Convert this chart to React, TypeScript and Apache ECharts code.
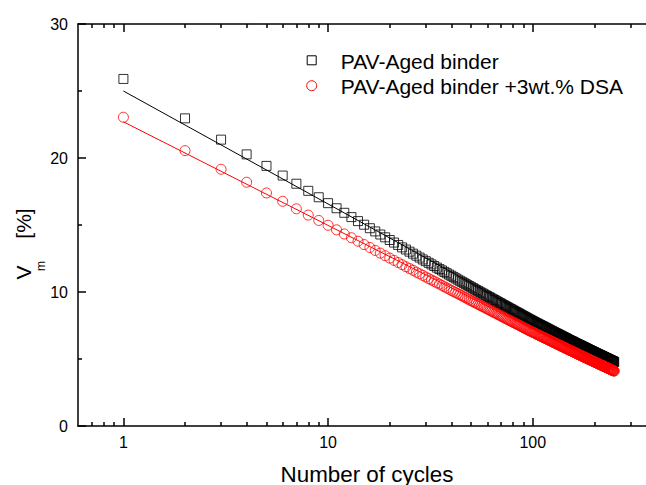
import React, { useEffect, useRef } from "react";
import * as echarts from "echarts";

// Number of cycles (x) – integer cycle index 1..250
const cycles: number[] = Array.from({ length: 250 }, (_, i) => i + 1);

// PAV-Aged binder (squares)
const pavAged: number[] = [
  25.90, 22.96, 21.37, 20.27, 19.41, 18.69, 18.08, 17.55, 17.07, 16.63,
  16.25, 15.91, 15.59, 15.29, 15.02, 14.76, 14.52, 14.29, 14.08, 13.88,
  13.69, 13.51, 13.33, 13.17, 13.01, 12.86, 12.71, 12.57, 12.43, 12.30,
  12.18, 12.06, 11.94, 11.82, 11.71, 11.61, 11.50, 11.40, 11.30, 11.21,
  11.11, 11.02, 10.93, 10.84, 10.76, 10.68, 10.59, 10.51, 10.44, 10.36,
  10.29, 10.21, 10.14, 10.08, 10.01, 9.94, 9.88, 9.81, 9.75, 9.69,
  9.63, 9.57, 9.51, 9.45, 9.40, 9.34, 9.28, 9.23, 9.18, 9.12,
  9.07, 9.02, 8.97, 8.92, 8.87, 8.82, 8.77, 8.73, 8.68, 8.63,
  8.59, 8.54, 8.50, 8.45, 8.41, 8.37, 8.33, 8.28, 8.24, 8.20,
  8.16, 8.12, 8.08, 8.04, 8.00, 7.96, 7.93, 7.89, 7.85, 7.82,
  7.78, 7.75, 7.71, 7.68, 7.65, 7.62, 7.58, 7.55, 7.52, 7.49,
  7.46, 7.43, 7.40, 7.37, 7.34, 7.31, 7.28, 7.25, 7.22, 7.19,
  7.16, 7.13, 7.10, 7.08, 7.05, 7.02, 6.99, 6.97, 6.94, 6.91,
  6.89, 6.86, 6.84, 6.81, 6.79, 6.76, 6.74, 6.71, 6.69, 6.66,
  6.64, 6.61, 6.59, 6.57, 6.54, 6.52, 6.50, 6.47, 6.45, 6.42,
  6.40, 6.38, 6.36, 6.34, 6.32, 6.30, 6.28, 6.25, 6.23, 6.21,
  6.19, 6.17, 6.15, 6.13, 6.11, 6.09, 6.07, 6.05, 6.03, 6.01,
  6.00, 5.98, 5.96, 5.94, 5.92, 5.90, 5.88, 5.86, 5.85, 5.83,
  5.81, 5.79, 5.77, 5.76, 5.74, 5.72, 5.70, 5.68, 5.67, 5.65,
  5.63, 5.62, 5.60, 5.58, 5.57, 5.55, 5.53, 5.51, 5.50, 5.48,
  5.47, 5.45, 5.43, 5.42, 5.40, 5.39, 5.37, 5.36, 5.34, 5.33,
  5.31, 5.30, 5.28, 5.27, 5.25, 5.24, 5.22, 5.21, 5.19, 5.18,
  5.17, 5.15, 5.14, 5.12, 5.11, 5.09, 5.08, 5.07, 5.05, 5.04,
  5.03, 5.01, 5.00, 4.98, 4.97, 4.96, 4.94, 4.93, 4.92, 4.90,
  4.89, 4.88, 4.86, 4.85, 4.84, 4.83, 4.81, 4.80, 4.79, 4.77,
];

// PAV-Aged binder +3wt.% DSA (circles)
const pavAgedDSA: number[] = [
  23.04, 20.55, 19.16, 18.19, 17.39, 16.77, 16.21, 15.74, 15.34, 14.98,
  14.64, 14.33, 14.05, 13.79, 13.54, 13.32, 13.10, 12.90, 12.71, 12.53,
  12.36, 12.20, 12.04, 11.89, 11.75, 11.62, 11.48, 11.36, 11.24, 11.12,
  11.00, 10.90, 10.79, 10.69, 10.59, 10.49, 10.39, 10.30, 10.21, 10.12,
  10.04, 9.96, 9.88, 9.80, 9.72, 9.64, 9.57, 9.50, 9.42, 9.35,
  9.29, 9.22, 9.16, 9.09, 9.03, 8.97, 8.91, 8.85, 8.79, 8.73,
  8.68, 8.62, 8.57, 8.51, 8.46, 8.41, 8.36, 8.31, 8.26, 8.21,
  8.16, 8.11, 8.06, 8.02, 7.97, 7.93, 7.88, 7.84, 7.80, 7.75,
  7.71, 7.67, 7.63, 7.59, 7.55, 7.51, 7.47, 7.43, 7.39, 7.35,
  7.31, 7.28, 7.24, 7.20, 7.17, 7.13, 7.10, 7.06, 7.03, 7.00,
  6.97, 6.94, 6.91, 6.87, 6.84, 6.81, 6.78, 6.75, 6.72, 6.69,
  6.66, 6.63, 6.61, 6.58, 6.55, 6.52, 6.49, 6.47, 6.44, 6.41,
  6.38, 6.36, 6.33, 6.30, 6.28, 6.25, 6.23, 6.20, 6.18, 6.15,
  6.13, 6.10, 6.08, 6.05, 6.03, 6.01, 5.98, 5.96, 5.94, 5.91,
  5.89, 5.87, 5.84, 5.82, 5.80, 5.78, 5.76, 5.73, 5.71, 5.69,
  5.67, 5.65, 5.63, 5.61, 5.59, 5.57, 5.55, 5.53, 5.51, 5.49,
  5.47, 5.45, 5.43, 5.41, 5.39, 5.37, 5.35, 5.33, 5.31, 5.29,
  5.28, 5.26, 5.24, 5.22, 5.20, 5.19, 5.17, 5.15, 5.13, 5.11,
  5.10, 5.08, 5.06, 5.05, 5.03, 5.01, 4.99, 4.98, 4.96, 4.94,
  4.93, 4.91, 4.90, 4.88, 4.86, 4.85, 4.83, 4.81, 4.80, 4.78,
  4.77, 4.75, 4.74, 4.72, 4.71, 4.69, 4.68, 4.66, 4.65, 4.63,
  4.62, 4.60, 4.59, 4.58, 4.56, 4.55, 4.53, 4.52, 4.50, 4.49,
  4.48, 4.46, 4.45, 4.44, 4.42, 4.41, 4.39, 4.38, 4.37, 4.35,
  4.34, 4.33, 4.31, 4.30, 4.29, 4.28, 4.26, 4.25, 4.24, 4.22,
  4.21, 4.20, 4.19, 4.17, 4.16, 4.15, 4.14, 4.12, 4.11, 4.10,
];

// Linear (in log x) fit lines: [cycle, value] end points
const fitPavAged: number[][] = [[1, 25.0], [250, 4.78]];
const fitPavAgedDSA: number[][] = [[1, 22.7], [250, 4.16]];

const xMajorTicks = [1, 10, 100];
const xMinorTicks = [0.7, 0.8, 0.9, 2, 3, 4, 5, 6, 7, 8, 9, 20, 30, 40, 50, 60, 70, 80, 90, 200, 300];
const yTicks = [0, 10, 20, 30];

const seriesNames = ["PAV-Aged binder", "PAV-Aged binder +3wt.% DSA"];
const xTitle = "Number of cycles";

const FONT = 'Arial, "Liberation Sans", sans-serif';

export default function App() {
  const ref = useRef<HTMLDivElement>(null);

  useEffect(() => {
    if (!ref.current) return;
    const chart = echarts.init(ref.current, undefined, { renderer: "svg" });

    const gridBox = { left: 78, top: 24, width: 578, height: 402, containLabel: false, outerBoundsMode: "none" };
    const logRange = { type: "log" as const, logBase: 10, min: 0.6, max: 400 };

    const option: any = {
      animation: false,
      backgroundColor: "#ffffff",
      grid: [{ ...gridBox }, { ...gridBox }],
      xAxis: [
        {
          ...logRange,
          gridIndex: 0,
          position: "bottom",
          name: xTitle,
          nameLocation: "middle",
          nameGap: 37,
          nameTextStyle: { fontSize: 22.4, color: "#000", fontFamily: FONT },
          axisLine: { show: true, lineStyle: { color: "#000", width: 1.5 } },
          axisTick: { show: true, inside: true, length: 8, customValues: xMajorTicks, lineStyle: { color: "#000", width: 1.5 } },
          axisLabel: { show: true, customValues: xMajorTicks, fontSize: 16, color: "#000", fontFamily: FONT, margin: 8, formatter: (v: number) => String(v) },
          splitLine: { show: false },
          minorTick: { show: false },
        },
        {
          ...logRange,
          gridIndex: 0,
          position: "top",
          axisLine: { show: true, lineStyle: { color: "#000", width: 1.5 } },
          axisTick: { show: true, inside: true, length: 8, customValues: xMajorTicks, lineStyle: { color: "#000", width: 1.5 } },
          axisLabel: { show: false },
          splitLine: { show: false },
        },
        {
          ...logRange,
          gridIndex: 1,
          position: "bottom",
          axisLine: { show: false },
          axisTick: { show: true, inside: true, length: 4, customValues: xMinorTicks, lineStyle: { color: "#000", width: 1.5 } },
          axisLabel: { show: false },
          splitLine: { show: false },
        },
        {
          ...logRange,
          gridIndex: 1,
          position: "top",
          axisLine: { show: false },
          axisTick: { show: true, inside: true, length: 4, customValues: xMinorTicks, lineStyle: { color: "#000", width: 1.5 } },
          axisLabel: { show: false },
          splitLine: { show: false },
        },
      ],
      yAxis: [
        {
          type: "value",
          gridIndex: 0,
          min: yTicks[0],
          max: yTicks[yTicks.length - 1],
          interval: 10,
          position: "left",
          axisLine: { show: true, lineStyle: { color: "#000", width: 1.5 } },
          axisTick: { show: true, inside: true, length: 8, lineStyle: { color: "#000", width: 1.5 } },
          minorTick: { show: true, splitNumber: 2, length: 4, lineStyle: { color: "#000", width: 1.5 } },
          axisLabel: { fontSize: 16, color: "#000", fontFamily: FONT, margin: 10 },
          splitLine: { show: false },
        },
        {
          type: "value",
          gridIndex: 1,
          min: 0,
          max: 30,
          show: false,
        },
      ],
      series: [
        {
          name: seriesNames[0],
          type: "scatter",
          xAxisIndex: 0,
          yAxisIndex: 0,
          symbol: "rect",
          symbolSize: 9,
          itemStyle: { color: "rgba(0,0,0,0)", borderColor: "#000", borderWidth: 1 },
          data: cycles.map((c, i) => [c, pavAged[i]]),
          z: 3,
        },
        {
          name: seriesNames[1],
          type: "scatter",
          xAxisIndex: 0,
          yAxisIndex: 0,
          symbol: "circle",
          symbolSize: 10,
          itemStyle: { color: "rgba(0,0,0,0)", borderColor: "#ff0000", borderWidth: 1 },
          data: cycles.map((c, i) => [c, pavAgedDSA[i]]),
          z: 3,
        },
        {
          name: "fit1",
          type: "line",
          xAxisIndex: 0,
          yAxisIndex: 0,
          showSymbol: false,
          symbol: "none",
          lineStyle: { color: "#000", width: 1 },
          data: fitPavAged,
          z: 4,
        },
        {
          name: "fit2",
          type: "line",
          xAxisIndex: 0,
          yAxisIndex: 0,
          showSymbol: false,
          symbol: "none",
          lineStyle: { color: "#ff0000", width: 1 },
          data: fitPavAgedDSA,
          z: 4,
        },
      ],
      graphic: [
        // legend
        {
          type: "rect",
          shape: { x: 307.2, y: 55.8, width: 9, height: 9 },
          style: { fill: "none", stroke: "#000", lineWidth: 1 },
        },
        {
          type: "circle",
          shape: { cx: 311.7, cy: 85.7, r: 5 },
          style: { fill: "none", stroke: "#ff0000", lineWidth: 1 },
        },
        {
          type: "text",
          x: 340.7,
          y: 61,
          style: { text: seriesNames[0], fontSize: 21, fontFamily: FONT, fill: "#000", textAlign: "left", textVerticalAlign: "middle", align: "left", verticalAlign: "middle" },
        },
        {
          type: "text",
          x: 340.7,
          y: 86.5,
          style: { text: seriesNames[1], fontSize: 21, fontFamily: FONT, fill: "#000", textAlign: "left", textVerticalAlign: "middle", align: "left", verticalAlign: "middle" },
        },
        // y axis title  V_m [%]
        {
          type: "text",
          x: 23,
          y: 272.5,
          rotation: Math.PI / 2,
          style: { text: "V", fontSize: 21, fontFamily: FONT, fill: "#000", textAlign: "center", textVerticalAlign: "middle", align: "center", verticalAlign: "middle" },
        },
        {
          type: "text",
          x: 41,
          y: 266,
          rotation: Math.PI / 2,
          style: { text: "m", fontSize: 12, fontFamily: FONT, fill: "#000", textAlign: "center", textVerticalAlign: "middle", align: "center", verticalAlign: "middle" },
        },
        {
          type: "text",
          x: 23,
          y: 223.5,
          rotation: Math.PI / 2,
          style: { text: "[%]", fontSize: 21, fontFamily: FONT, fill: "#000", textAlign: "center", textVerticalAlign: "middle", align: "center", verticalAlign: "middle" },
        },
      ],
    };

    chart.setOption(option);
    return () => {
      chart.dispose();
    };
  }, []);

  return (
    <div
      ref={ref}
      style={{ position: "absolute", left: 0, top: 0, width: 646, height: 485, background: "#fff" }}
    />
  );
}
